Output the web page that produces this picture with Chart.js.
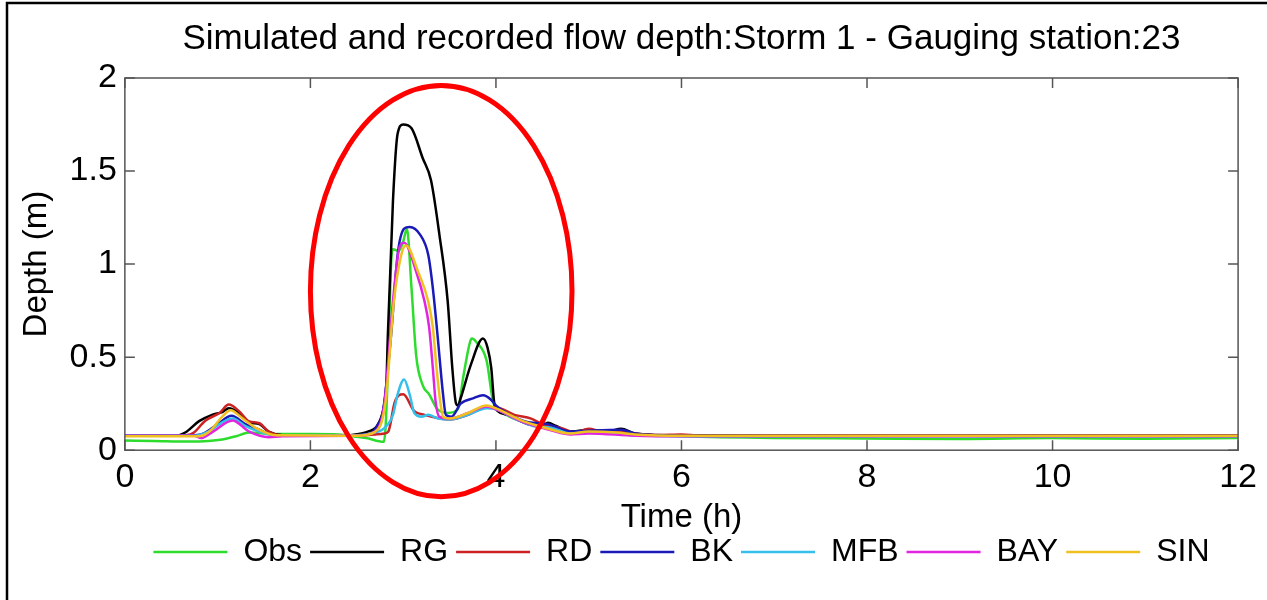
<!DOCTYPE html>
<html>
<head>
<meta charset="utf-8">
<title>Flow depth - Storm 1 - Gauging station 23</title>
<script src="https://cdn.jsdelivr.net/npm/chart.js@4.4.1/dist/chart.umd.min.js"></script>
<style>
  html, body { margin: 0; padding: 0; background: #fff; }
  canvas { display: block; }
</style>
</head>
<body>
<canvas id="depth-chart" width="1267" height="600"></canvas>
<script>
// Tick labels
var xTicks = [0, 2, 4, 6, 8, 10, 12];
var yTicks = [0, 0.5, 1, 1.5, 2];

// Recorded depth (m) against time (h)
var obsTime  = [0, 0.3, 0.7, 0.9, 1.05, 1.2, 1.34, 1.6, 2.0, 2.3, 2.45, 2.6, 2.79, 2.81, 2.84, 2.87, 2.89, 2.95, 3.0, 3.04, 3.09, 3.14, 3.21, 3.28, 3.37, 3.48, 3.59, 3.65, 3.72, 3.74, 3.79, 3.9, 3.97, 4.05, 4.3, 4.5, 4.8, 5.0, 5.5, 6.0, 7.0, 8.0, 9.0, 10.0, 11.0, 12.0];
var obsDepth = [0.052, 0.05, 0.047, 0.05, 0.058, 0.075, 0.095, 0.087, 0.087, 0.085, 0.075, 0.065, 0.045, 0.12, 0.5, 1.0, 1.08, 1.07, 1.12, 1.19, 0.87, 0.51, 0.35, 0.30, 0.22, 0.20, 0.22, 0.40, 0.58, 0.60, 0.58, 0.48, 0.26, 0.21, 0.15, 0.13, 0.10, 0.10, 0.085, 0.075, 0.066, 0.063, 0.06, 0.065, 0.062, 0.066];

// Simulated depth, one pair of arrays per rainfall input
var rgTime  = [0, 0.55, 0.65, 0.8, 0.94, 1.05, 1.12, 1.23, 1.34, 1.45, 1.55, 1.7, 2.0, 2.4, 2.55, 2.62, 2.73, 2.8, 2.82, 2.835, 2.89, 2.94, 3.0, 3.09, 3.21, 3.3, 3.39, 3.48, 3.53, 3.57, 3.59, 3.62, 3.73, 3.86, 3.91, 3.95, 3.98, 4.02, 4.13, 4.34, 4.5, 4.56, 4.65, 4.8, 5.0, 5.2, 5.35, 5.5, 6.0, 7.0, 10.4, 12];
var rgDepth = [0.078, 0.078, 0.095, 0.156, 0.19, 0.205, 0.225, 0.2, 0.15, 0.14, 0.1, 0.08, 0.08, 0.08, 0.09, 0.1, 0.14, 0.26, 0.37, 0.62, 1.34, 1.70, 1.75, 1.73, 1.57, 1.45, 1.16, 0.80, 0.44, 0.25, 0.24, 0.28, 0.46, 0.60, 0.55, 0.44, 0.26, 0.21, 0.19, 0.14, 0.13, 0.147, 0.13, 0.10, 0.11, 0.10, 0.115, 0.09, 0.08, 0.08, 0.08, 0.078];

var rdTime  = [0, 0.6, 0.73, 0.87, 1.02, 1.12, 1.23, 1.34, 1.45, 1.55, 1.7, 2.0, 2.5, 2.7, 2.8, 2.84, 2.91, 3.0, 3.12, 3.23, 3.4, 3.5, 3.7, 3.9, 4.0, 4.2, 4.38, 4.5, 4.7, 4.85, 5.0, 5.15, 5.3, 5.5, 5.75, 6.0, 6.2, 7.0, 12];
var rdDepth = [0.078, 0.078, 0.09, 0.16, 0.20, 0.245, 0.21, 0.155, 0.145, 0.10, 0.08, 0.08, 0.08, 0.085, 0.09, 0.10, 0.26, 0.30, 0.21, 0.19, 0.17, 0.165, 0.19, 0.23, 0.23, 0.19, 0.17, 0.14, 0.12, 0.095, 0.115, 0.10, 0.105, 0.09, 0.082, 0.085, 0.078, 0.08, 0.08];

var bkTime  = [0, 0.7, 0.85, 1.0, 1.15, 1.3, 1.45, 1.6, 2.5, 2.65, 2.73, 2.78, 2.87, 2.94, 3.01, 3.07, 3.18, 3.27, 3.32, 3.37, 3.43, 3.46, 3.52, 3.62, 3.76, 3.86, 3.95, 4.0, 4.15, 4.35, 4.56, 4.8, 5.0, 5.35, 5.5, 6.0, 12];
var bkDepth = [0.078, 0.078, 0.09, 0.14, 0.185, 0.14, 0.11, 0.08, 0.08, 0.09, 0.14, 0.2, 0.62, 1.05, 1.19, 1.20, 1.16, 1.05, 0.87, 0.62, 0.30, 0.19, 0.18, 0.25, 0.28, 0.295, 0.27, 0.24, 0.19, 0.15, 0.14, 0.10, 0.105, 0.11, 0.09, 0.078, 0.078];

var mfbTime  = [0, 0.75, 0.9, 1.05, 1.16, 1.3, 1.45, 1.6, 2.5, 2.65, 2.8, 2.89, 2.94, 3.01, 3.07, 3.12, 3.2, 3.27, 3.38, 3.5, 3.7, 3.9, 4.0, 4.2, 4.4, 4.6, 4.8, 5.0, 5.5, 6.0, 12];
var mfbDepth = [0.078, 0.078, 0.10, 0.15, 0.17, 0.13, 0.10, 0.08, 0.08, 0.09, 0.12, 0.19, 0.30, 0.38, 0.30, 0.20, 0.18, 0.19, 0.17, 0.165, 0.19, 0.225, 0.22, 0.17, 0.13, 0.12, 0.09, 0.095, 0.08, 0.075, 0.075];

var bayTime  = [0, 0.75, 0.82, 0.95, 1.16, 1.34, 1.55, 1.7, 2.5, 2.7, 2.8, 2.89, 2.96, 3.01, 3.14, 3.23, 3.28, 3.32, 3.35, 3.39, 3.5, 3.7, 3.9, 4.0, 4.3, 4.5, 4.8, 5.0, 5.5, 6.0, 12];
var bayDepth = [0.078, 0.078, 0.065, 0.10, 0.16, 0.10, 0.07, 0.075, 0.078, 0.10, 0.26, 0.80, 1.09, 1.115, 0.96, 0.80, 0.66, 0.44, 0.26, 0.18, 0.17, 0.2, 0.235, 0.22, 0.15, 0.12, 0.085, 0.09, 0.078, 0.075, 0.075];

var sinTime  = [0, 0.8, 0.91, 1.05, 1.14, 1.27, 1.41, 1.63, 2.5, 2.7, 2.81, 2.9, 2.98, 3.03, 3.16, 3.27, 3.32, 3.36, 3.4, 3.43, 3.5, 3.7, 3.9, 4.0, 4.3, 4.5, 4.8, 5.0, 5.3, 5.5, 6.0, 12];
var sinDepth = [0.075, 0.075, 0.10, 0.18, 0.215, 0.17, 0.12, 0.08, 0.078, 0.10, 0.26, 0.80, 1.05, 1.10, 0.96, 0.80, 0.66, 0.44, 0.26, 0.18, 0.17, 0.2, 0.24, 0.225, 0.155, 0.125, 0.09, 0.10, 0.095, 0.085, 0.078, 0.078];

var FONT = "'Liberation Sans', Arial, Helvetica, sans-serif";
var TICK_LEN = 10;

// zip two arrays into {x, y} points
function toPoints(times, depths) {
	return times.map(function (t, i) {
		return { x: t, y: depths[i] };
	});
}

function series(label, times, depths, colour, order) {
	return {
		label: label,
		data: toPoints(times, depths),
		borderColor: colour,
		backgroundColor: colour,
		borderWidth: 2.5,
		pointRadius: 0,
		cubicInterpolationMode: 'monotone',
		order: order
	};
}

// plain number labels: 0, 0.5, 1 ... (no forced decimals)
function plainLabel(value) {
	return String(value);
}

// Outer frame of the figure (only left and top edges fall on the canvas)
var figureFrame = {
	id: 'figureFrame',
	afterDraw: function (chart) {
		var ctx = chart.ctx;
		ctx.save();
		ctx.strokeStyle = '#000';
		ctx.lineWidth = 2.5;
		ctx.strokeRect(7, 3, chart.width + 40, chart.height + 40);
		ctx.restore();
	}
};

// Box round the axes with short inward ticks on all four sides
var axesBox = {
	id: 'axesBox',
	afterDatasetsDraw: function (chart) {
		var ctx = chart.ctx;
		var a = chart.chartArea;
		var xs = chart.scales.x;
		var ys = chart.scales.y;
		ctx.save();
		ctx.strokeStyle = '#555';
		ctx.lineWidth = 1.5;
		ctx.strokeRect(a.left, a.top, a.right - a.left, a.bottom - a.top);
		ctx.beginPath();
		xTicks.forEach(function (v) {
			var px = xs.getPixelForValue(v);
			ctx.moveTo(px, a.bottom);
			ctx.lineTo(px, a.bottom - TICK_LEN);
			ctx.moveTo(px, a.top);
			ctx.lineTo(px, a.top + TICK_LEN);
		});
		yTicks.forEach(function (v) {
			var py = ys.getPixelForValue(v);
			ctx.moveTo(a.left, py);
			ctx.lineTo(a.left + TICK_LEN, py);
			ctx.moveTo(a.right, py);
			ctx.lineTo(a.right - TICK_LEN, py);
		});
		ctx.stroke();
		ctx.restore();
	}
};

// Red ring around the main flood peak, given in axis units
var peakRing = { time: 3.41, depth: 0.855, halfTime: 1.41, halfDepth: 1.105 };

var peakHighlight = {
	id: 'peakHighlight',
	afterDraw: function (chart) {
		var ctx = chart.ctx;
		var xs = chart.scales.x;
		var ys = chart.scales.y;
		var cx = xs.getPixelForValue(peakRing.time);
		var cy = ys.getPixelForValue(peakRing.depth);
		var rx = xs.getPixelForValue(peakRing.time + peakRing.halfTime) - cx;
		var ry = cy - ys.getPixelForValue(peakRing.depth + peakRing.halfDepth);
		ctx.save();
		ctx.strokeStyle = '#ff0000';
		ctx.lineWidth = 5;
		ctx.beginPath();
		ctx.ellipse(cx, cy, rx, ry, 0, 0, 2 * Math.PI);
		ctx.stroke();
		ctx.restore();
	}
};

Chart.defaults.font.family = FONT;
Chart.defaults.color = '#000';

new Chart(document.getElementById('depth-chart'), {
	type: 'line',
	data: {
		datasets: [
			series('Obs', obsTime, obsDepth, '#2edc2e', 6),
			series('RG', rgTime, rgDepth, '#000000', 5),
			series('RD', rdTime, rdDepth, '#cc2222', 4),
			series('BK', bkTime, bkDepth, '#1a1ab8', 3),
			series('MFB', mfbTime, mfbDepth, '#35c0ec', 2),
			series('BAY', bayTime, bayDepth, '#e024e0', 1),
			series('SIN', sinTime, sinDepth, '#f0c020', 0)
		]
	},
	options: {
		responsive: false,
		animation: false,
		devicePixelRatio: 1,
		layout: { padding: { left: 17, top: 0, right: 28, bottom: 22 } },
		scales: {
			x: {
				type: 'linear',
				min: 0,
				max: 12,
				afterBuildTicks: function (scale) {
					scale.ticks = xTicks.map(function (v) { return { value: v }; });
				},
				ticks: {
					autoSkip: false,
					maxRotation: 0,
					padding: 10,
					callback: plainLabel,
					font: { size: 34, lineHeight: 1 }
				},
				grid: { display: false, drawTicks: false },
				border: { display: false },
				title: {
					display: true,
					text: 'Time (h)',
					font: { size: 33, lineHeight: 0.6 },
					padding: { top: 4, bottom: 0 }
				}
			},
			y: {
				min: 0,
				max: 2,
				afterBuildTicks: function (scale) {
					scale.ticks = yTicks.map(function (v) { return { value: v }; });
				},
				ticks: {
					padding: 8,
					callback: plainLabel,
					font: { size: 34, lineHeight: 1.2 }
				},
				grid: { display: false, drawTicks: false },
				border: { display: false },
				title: {
					display: true,
					text: 'Depth (m)',
					font: { size: 33, lineHeight: 1.2 },
					padding: { top: 0, bottom: 5 }
				}
			}
		},
		plugins: {
			title: {
				display: true,
				fullSize: false,
				text: 'Simulated and recorded flow depth:Storm 1 - Gauging station:23',
				color: '#000',
				font: { size: 35, weight: 'normal', lineHeight: 1.2 },
				padding: { top: 18, bottom: 18 }
			},
			legend: {
				position: 'bottom',
				fullSize: false,
				labels: {
					usePointStyle: true,
					pointStyle: 'line',
					pointStyleWidth: 74,
					padding: 8,
					color: '#000',
					font: { size: 32 },
					sort: function (a, b) { return a.datasetIndex - b.datasetIndex; }
				}
			},
			tooltip: { enabled: false }
		}
	},
	plugins: [axesBox, peakHighlight, figureFrame]
});
</script>
</body>
</html>
